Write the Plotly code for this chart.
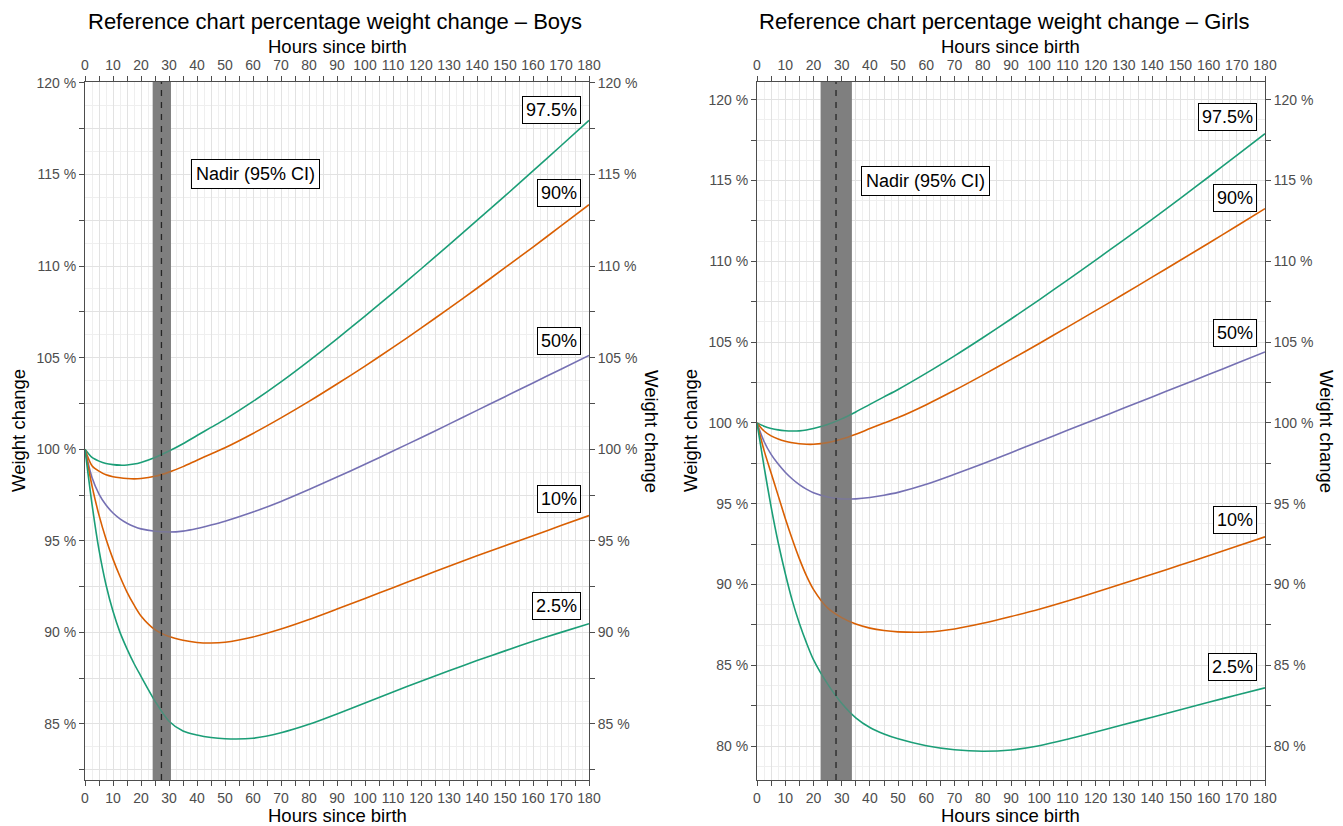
import plotly.graph_objects as go

# ---------------- data ----------------
hours = [0, 2.5, 5, 7.5, 10, 12.5, 15, 17.5, 20, 25, 30, 35, 40, 45, 50, 60, 70, 80, 90,
         100, 110, 120, 130, 140, 150, 160, 170, 180]

boys_p975 = [100, 99.55, 99.35, 99.22, 99.16, 99.13, 99.14, 99.19, 99.28, 99.55, 99.9, 100.3, 100.75, 101.19,
             101.63, 102.61, 103.68, 104.83, 106.03, 107.27, 108.54, 109.84, 111.16, 112.49, 113.83, 115.2, 116.57, 117.95]
boys_p90 = [100, 99.1, 98.8, 98.6, 98.5, 98.44, 98.4, 98.38, 98.4, 98.52, 98.75, 99.05, 99.4, 99.74,
            100.08, 100.86, 101.71, 102.61, 103.56, 104.54, 105.56, 106.61, 107.69, 108.79, 109.91, 111.04, 112.19, 113.35]
boys_p50 = [100, 98.45, 97.55, 96.95, 96.52, 96.2, 95.96, 95.78, 95.65, 95.52, 95.48, 95.53, 95.67, 95.86,
            96.07, 96.57, 97.15, 97.8, 98.48, 99.18, 99.9, 100.63, 101.37, 102.12, 102.87, 103.62, 104.37, 105.12]
boys_p10 = [100, 98.0, 96.4, 95.1, 94.0, 93.05, 92.2, 91.5, 90.9, 90.15, 89.77, 89.57, 89.45, 89.42,
            89.46, 89.75, 90.18, 90.7, 91.27, 91.85, 92.44, 93.03, 93.61, 94.18, 94.73, 95.28, 95.83, 96.38]
boys_p025 = [100, 97.0, 94.5, 92.6, 91.15, 90.0, 89.1, 88.3, 87.6, 86.25, 85.15, 84.62, 84.4, 84.26,
             84.19, 84.22, 84.52, 84.98, 85.55, 86.15, 86.75, 87.33, 87.9, 88.46, 88.99, 89.51, 90.0, 90.47]

girls_p975 = [100, 99.8, 99.66, 99.57, 99.52, 99.5, 99.51, 99.56, 99.65, 99.9, 100.25, 100.68, 101.15, 101.61,
              102.07, 103.08, 104.15, 105.27, 106.43, 107.62, 108.84, 110.08, 111.33, 112.6, 113.9, 115.22, 116.56, 117.9]
girls_p90 = [100, 99.5, 99.2, 99.0, 98.86, 98.77, 98.71, 98.68, 98.68, 98.78, 99.0, 99.3, 99.65, 99.99,
             100.33, 101.13, 102.02, 102.96, 103.93, 104.92, 105.93, 106.95, 107.98, 109.02, 110.07, 111.12, 112.19, 113.26]
girls_p50 = [100, 98.85, 98.05, 97.45, 96.95, 96.53, 96.18, 95.9, 95.68, 95.42, 95.3, 95.3, 95.38, 95.52,
             95.7, 96.2, 96.82, 97.48, 98.16, 98.85, 99.54, 100.23, 100.92, 101.61, 102.3, 102.99, 103.69, 104.39]
girls_p10 = [100, 98.3, 96.9, 95.5, 94.1, 92.8, 91.6, 90.55, 89.7, 88.55, 87.95, 87.55, 87.3, 87.15,
             87.07, 87.06, 87.25, 87.6, 88.02, 88.47, 88.98, 89.52, 90.07, 90.63, 91.2, 91.78, 92.36, 92.95]
girls_p025 = [100, 97.3, 94.8, 92.6, 90.7, 89.0, 87.6, 86.4, 85.35, 83.85, 82.65, 81.75, 81.15, 80.75,
              80.45, 80.02, 79.77, 79.68, 79.76, 80.02, 80.42, 80.87, 81.33, 81.79, 82.25, 82.71, 83.16, 83.6]

percentile_names = ["97.5%", "90%", "50%", "10%", "2.5%"]
percentile_colors = ["#1B9E77", "#D95F02", "#7570B3", "#D95F02", "#1B9E77"]
boys_label_y = [118.5, 114.0, 105.9, 97.3, 91.45]
girls_label_y = [118.95, 113.95, 105.55, 94.0, 84.9]

boys_nadir = 27.3
boys_nadir_ci = [24.2, 30.7]
girls_nadir = 28.0
girls_nadir_ci = [22.6, 33.6]
nadir_label = "Nadir (95% CI)"
nadir_label_y = 115

x_tickvals = list(range(0, 181, 5))
x_ticktext = [str(v) if v % 10 == 0 else "" for v in x_tickvals]
x_minor = [v + 2.5 for v in range(0, 180, 5)]

boys_ytickvals = [82.5 + 2.5 * i for i in range(16)]
girls_ytickvals = [77.5 + 2.5 * i for i in range(18)]


def ylabels(vals):
    return [f"{int(v)} %" if v % 5 == 0 else "" for v in vals]


def yminor(vals):
    return [v + 1.25 for v in vals] + [vals[0] - 1.25]


titles = ["Reference chart percentage weight change – Boys",
          "Reference chart percentage weight change – Girls"]
x_title = "Hours since birth"
y_title = "Weight change"

# ---------------- figure ----------------
OFF = 8  # page body margin
W, H = 1343 - OFF, 826 - OFF
FONT = "Liberation Sans, Arial, sans-serif"


def px(x):
    return (x - OFF) / W


def py(y):
    return 1 - (y - OFF) / H


fig = go.Figure()

panels = [
    dict(xs=("x", "x2"), ys=("y", "y2"), ax=("xaxis", "xaxis2"), ay=("yaxis", "yaxis2"),
         dom=[px(85), px(589)], yr=[81.94, 120.05], yt=boys_ytickvals,
         series=[boys_p975, boys_p90, boys_p50, boys_p10, boys_p025], ly=boys_label_y,
         nadir=boys_nadir, ci=boys_nadir_ci, nx=61, title=titles[0], tx=87,
         ytl_x=18, ytr_x=652),
    dict(xs=("x3", "x4"), ys=("y3", "y4"), ax=("xaxis3", "xaxis4"), ay=("yaxis3", "yaxis4"),
         dom=[px(757), px(1265)], yr=[77.9, 121.1], yt=girls_ytickvals,
         series=[girls_p975, girls_p90, girls_p50, girls_p10, girls_p025], ly=girls_label_y,
         nadir=girls_nadir, ci=girls_nadir_ci, nx=59.6, title=titles[1], tx=758,
         ytl_x=690, ytr_x=1327),
]

ydom = [py(780), py(82)]
axis_col = "#4d4d4d"
tick_font = dict(family=FONT, size=14, color="#4d4d4d")
annotations = []
shapes = []

for p in panels:
    xb, xt = p["xs"]
    yl, yr_ = p["ys"]
    # nadir confidence band (drawn as data so it covers the grid)
    fig.add_trace(go.Scatter(x=[p["ci"][0], p["ci"][1], p["ci"][1], p["ci"][0]],
                             y=[p["yr"][0], p["yr"][0], p["yr"][1], p["yr"][1]],
                             fill="toself", fillcolor="#7f7f7f", line=dict(width=0),
                             mode="lines", xaxis=xb, yaxis=yl, showlegend=False, hoverinfo="skip"))
    for s, name, col in zip(p["series"], percentile_names, percentile_colors):
        fig.add_trace(go.Scatter(x=hours, y=s, mode="lines", name=name,
                                 line=dict(color=col, width=1.6, shape="spline", smoothing=0.8),
                                 xaxis=xb, yaxis=yl, showlegend=False, hoverinfo="skip"))
    # dummy traces so the secondary axes are drawn
    fig.add_trace(go.Scatter(x=[None], y=[None], xaxis=xt, yaxis=yl, showlegend=False, hoverinfo="skip"))
    fig.add_trace(go.Scatter(x=[None], y=[None], xaxis=xb, yaxis=yr_, showlegend=False, hoverinfo="skip"))

    common_x = dict(domain=p["dom"], range=[0, 180], tickmode="array", tickvals=x_tickvals,
                    ticktext=x_ticktext, ticks="outside", ticklen=5, tickcolor=axis_col,
                    showline=True, linecolor=axis_col, linewidth=1, tickfont=tick_font,
                    zeroline=False, fixedrange=True, automargin=False)
    fig.update_layout(**{
        p["ax"][0]: dict(common_x, anchor=yl, side="bottom", showgrid=True, gridcolor="#e2e2e2",
                         gridwidth=1,
                         minor=dict(tickvals=x_minor, showgrid=True, gridcolor="#efefef", gridwidth=1,
                                    ticks="")),
        p["ax"][1]: dict(common_x, anchor=yl, side="top", overlaying=xb, showgrid=False),
    })
    common_y = dict(domain=ydom, range=p["yr"], tickmode="array", tickvals=p["yt"],
                    ticktext=ylabels(p["yt"]), ticks="outside", ticklen=5, tickcolor=axis_col,
                    showline=True, linecolor=axis_col, linewidth=1, tickfont=tick_font,
                    zeroline=False, fixedrange=True, automargin=False)
    fig.update_layout(**{
        p["ay"][0]: dict(common_y, anchor=xb, side="left", showgrid=True, gridcolor="#e2e2e2",
                         minor=dict(tickvals=yminor(p["yt"]), showgrid=True, gridcolor="#efefef",
                                    ticks="")),
        p["ay"][1]: dict(common_y, anchor=xb, side="right", overlaying=yl, showgrid=False),
    })

    ydomref = yl + " domain"
    shapes.append(dict(type="rect", xref=xb, yref=ydomref, x0=p["ci"][0], x1=p["ci"][1], y0=0, y1=1,
                       fillcolor="rgba(127,127,127,0.5)", line=dict(width=0), layer="above"))
    shapes.append(dict(type="line", xref=xb, yref=ydomref, x0=p["nadir"], x1=p["nadir"], y0=0, y1=1,
                       line=dict(color="#262626", width=1.3, dash="6px,6px"), layer="above"))

    label_font = dict(family=FONT, size=18, color="black")
    for name, ly in zip(percentile_names, p["ly"]):
        annotations.append(dict(xref=xb, yref=yl, x=177, y=ly, text=name, showarrow=False,
                                xanchor="right", yanchor="middle", font=label_font,
                                bgcolor="white", bordercolor="black", borderwidth=1, borderpad=3))
    annotations.append(dict(xref=xb, yref=yl, x=p["nx"], y=nadir_label_y, text=nadir_label,
                            showarrow=False, xanchor="center", yanchor="middle", font=label_font,
                            bgcolor="white", bordercolor="black", borderwidth=1, borderpad=4))

    # titles
    annotations.append(dict(xref="paper", yref="paper", x=px(p["tx"]), y=1.0,
                            text=p["title"], showarrow=False, xanchor="left", yanchor="top",
                            borderpad=0, font=dict(family=FONT, size=22, color="black")))
    cx = (p["dom"][0] + p["dom"][1]) / 2
    annotations.append(dict(xref="paper", yref="paper", x=cx, y=py(47), text=x_title,
                            showarrow=False, xanchor="center", yanchor="middle",
                            font=dict(family=FONT, size=18.5, color="black")))
    annotations.append(dict(xref="paper", yref="paper", x=cx, y=py(804), text=x_title,
                            showarrow=False, xanchor="center", yanchor="top", borderpad=0,
                            font=dict(family=FONT, size=18.5, color="black")))
    ycen = py(431)
    annotations.append(dict(xref="paper", yref="paper", x=px(p["ytl_x"]), y=ycen, text=y_title,
                            textangle=-90, showarrow=False, xanchor="center", yanchor="middle",
                            font=dict(family=FONT, size=18.5, color="black")))
    annotations.append(dict(xref="paper", yref="paper", x=px(p["ytr_x"]), y=ycen, text=y_title,
                            textangle=90, showarrow=False, xanchor="center", yanchor="middle",
                            font=dict(family=FONT, size=18.5, color="black")))

fig.update_layout(width=W, height=H, margin=dict(l=0, r=0, t=0, b=0, autoexpand=False),
                  paper_bgcolor="white", plot_bgcolor="white",
                  annotations=annotations, shapes=shapes, showlegend=False,
                  font=dict(family=FONT))

fig.write_html("out.html")
